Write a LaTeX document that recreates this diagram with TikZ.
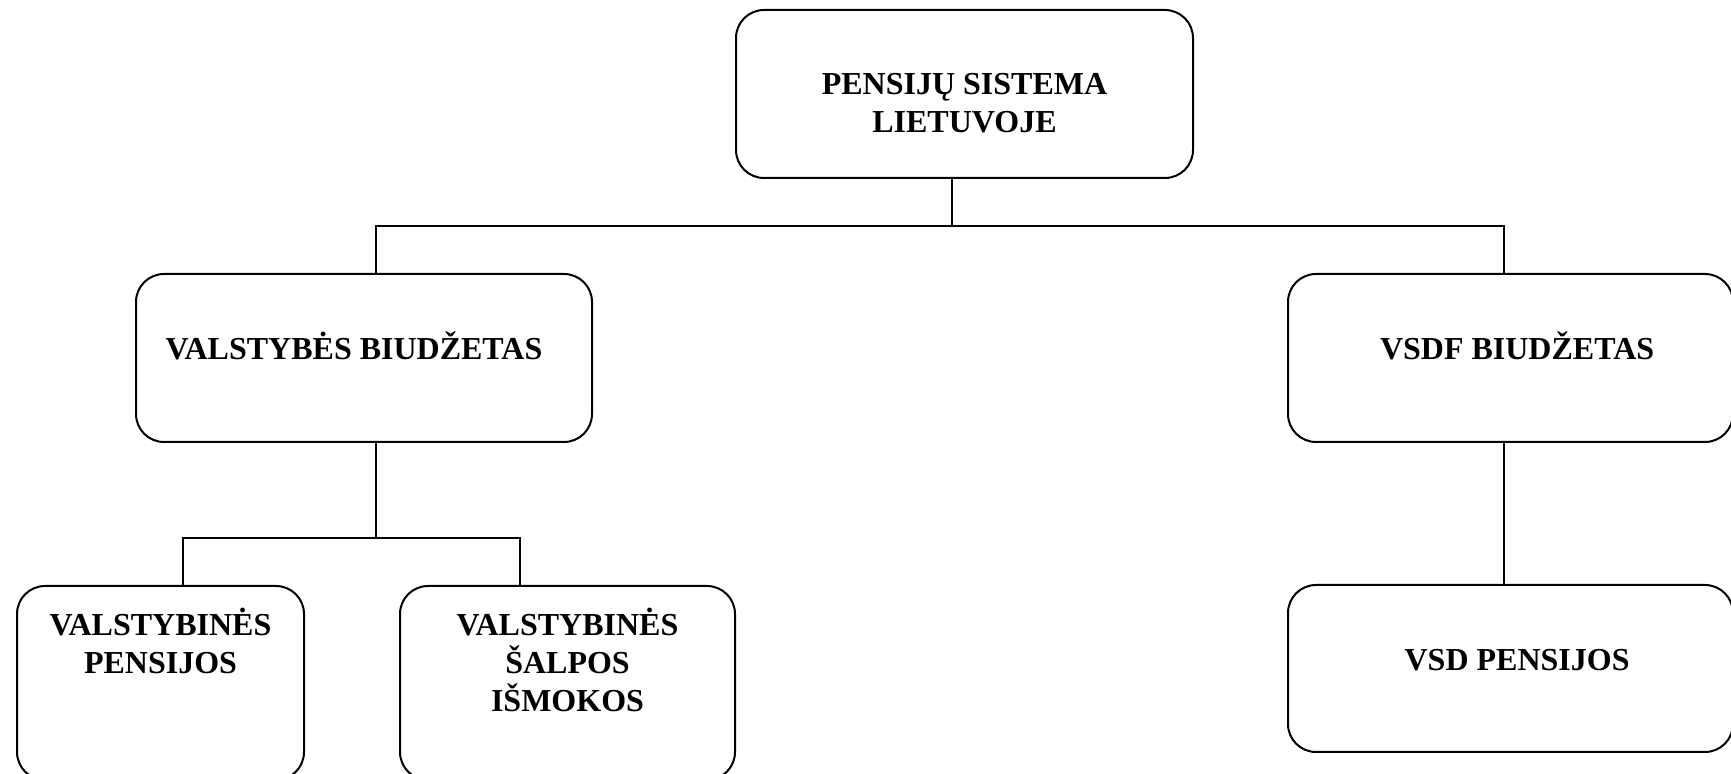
\documentclass[tikz,border=0pt]{standalone}
\usepackage{fontspec}
\setmainfont{Liberation Serif}
\usepackage{tikz}
\usetikzlibrary{positioning}

\tikzset{
  box/.style={draw, line width=1pt, rounded corners=14pt, align=center,
    font=\fontsize{16}{19}\selectfont\bfseries, inner sep=0pt},
  raised/.style={text height=10.6pt, text depth=#1},
  link/.style={line width=1pt}
}

\begin{document}
\begin{tikzpicture}[x=0.5pt,y=-0.5pt]
\useasboundingbox (0,0) rectangle (1731,774);
% boxes
\node[box, minimum width=228.5pt, minimum height=84pt, text height=38.5pt, text depth=0pt] (system) at (964.5,94) {PENSIJŲ SISTEMA\\LIETUVOJE};
\node[box, raised=9pt, minimum width=228pt, minimum height=84pt] (state) at (364,358) {VALSTYBĖS BIUDŽETAS\hspace*{10pt}};
\node[box, raised=9pt, minimum width=222.5pt, minimum height=84pt] (vsdf) at (1510.5,358) {\hspace*{6.6pt}VSDF BIUDŽETAS};
\node[box, minimum width=143.5pt, minimum height=97pt] (statepens) at (160.5,683) {VALSTYBINĖS\\PENSIJOS\\~\\[4.4pt]~};
\node[box, minimum width=167.5pt, minimum height=97pt] (relief) at (567.5,683) {VALSTYBINĖS\\ŠALPOS\\IŠMOKOS\\[4.4pt]~};
\node[box, raised=8.5pt, minimum width=222.5pt, minimum height=83.5pt] (vsdpens) at (1510.5,668.5) {\hspace*{6.6pt}VSD PENSIJOS};
% junctions
\coordinate (bus) at (952,226);
\coordinate (busL) at (376,226);
\coordinate (busR) at (1504,226);
\coordinate (sub) at (376,538);
\coordinate (subL) at (183,538);
\coordinate (subR) at (520,538);
% connectors
\draw[link] (system.south -| bus) -- (bus);
\draw[link] (state.north -| busL) -- (busL) -- (busR) -- (vsdf.north -| busR);
\draw[link] (state.south -| sub) -- (sub);
\draw[link] (statepens.north -| subL) -- (subL) -- (subR) -- (relief.north -| subR);
\draw[link] (vsdf.south -| busR) -- (vsdpens.north -| busR);
\end{tikzpicture}
\end{document}
